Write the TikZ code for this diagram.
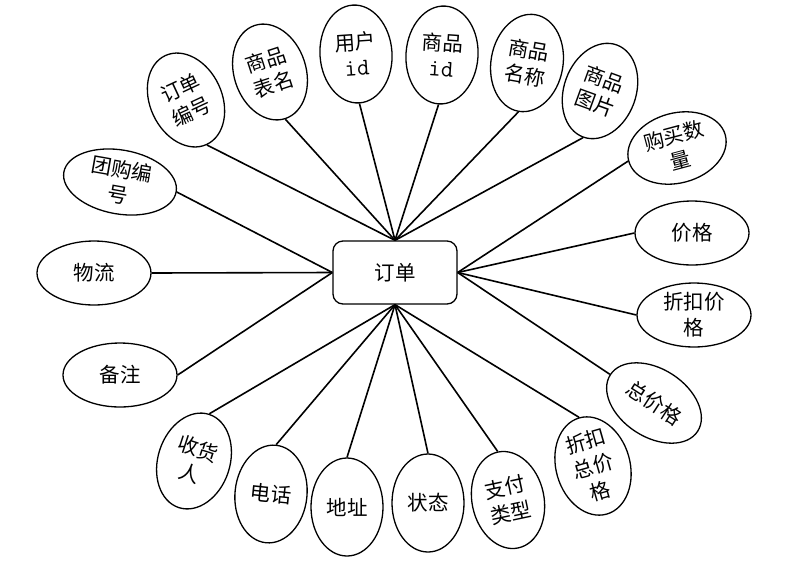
\documentclass[tikz,border=0pt]{standalone}
\usepackage{fontspec}
\newfontfamily\cjk{Noto Sans CJK SC}
\newcommand{\idtext}{{\ttfamily\fontsize{24}{25}\selectfont id}}
\usetikzlibrary{shapes.geometric}
\begin{document}
\begin{tikzpicture}[x=1pt,y=-1pt,
  attr/.style={draw, ellipse, fill=white, line width=1.3pt, inner sep=-8pt, align=center,
    font=\cjk\fontsize{20.5}{26}\selectfont},
  tall/.style={attr, minimum width=72pt, minimum height=98pt},
  wide/.style={attr, minimum width=114pt, minimum height=64pt},
  ent/.style={draw, fill=white, rounded corners=10pt, line width=1.3pt, minimum width=124pt,
    minimum height=63pt, font=\cjk\fontsize{20.5}{26}\selectfont},
  link/.style={line width=1.6pt}]
\useasboundingbox (0,0) rectangle (802,576);

\node[ent] (o) at (395,272.5) {订单};

% top group
\node[tall, rotate=25] (a1) at (186,100) {订单\\编号};
\node[tall, rotate=18] (a2) at (270,72) {商品\\表名};
\node[tall, rotate=4] (a3) at (356,54) {用户\\\idtext};
\node[tall, rotate=-4] (a4) at (442,55) {商品\\\idtext};
\node[tall, rotate=-10] (a5) at (527,63) {商品\\名称};
\node[tall, rotate=-20] (a6) at (600,91) {商品\\图片};

% left group
\node[wide, rotate=-10] (b1) at (120,182) {团购编\\号};
\node[wide] (b2) at (94,273) {物流};
\node[wide] (b3) at (120,375) {备注};

% right group
\node[attr, minimum width=100pt, minimum height=70pt, rotate=15] (c1) at (677,148) {购买数\\量};
\node[wide] (c2) at (692,233) {价格};
\node[wide] (c3) at (694,315) {折扣价\\格};
\node[attr, minimum width=104pt, minimum height=68pt, rotate=-33] (c4) at (654,403) {总价格};

% bottom group
\node[tall, rotate=-18] (d1) at (194,461) {收货\\人};
\node[tall, rotate=-6] (d2) at (271,494) {电话};
\node[tall] (d3) at (347,507) {地址};
\node[tall] (d4) at (428,503) {状态};
\node[tall, rotate=12] (d5) at (508,500) {支付\\类型};
\node[attr, minimum width=74pt, minimum height=100pt, rotate=16] (d6) at (593,466) {折扣\\总价\\格};

\foreach \n in {a1,a2,a3,a4,a5,a6} \draw[link] (\n.south) -- (o.north);
\foreach \n in {b1,b2,b3} \draw[link] (\n.east) -- (o.west);
\foreach \n in {c1,c2,c3,c4} \draw[link] (\n.west) -- (o.east);
\foreach \n in {d1,d2,d3,d4,d5,d6} \draw[link] (\n.north) -- (o.south);
\end{tikzpicture}
\end{document}
